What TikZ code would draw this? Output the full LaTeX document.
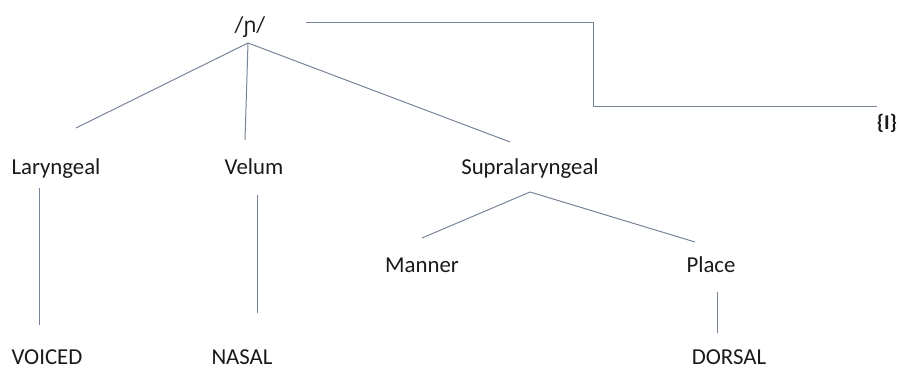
\documentclass[tikz,border=0pt]{standalone}
\usepackage{fontspec}
\setmainfont{Carlito}
\newfontfamily\ipafont{Noto Sans}
\usepackage{tikz}
\definecolor{treeline}{RGB}{120,132,155}
\tikzstyle{feat} = [inner sep=0pt, anchor=base, font={\fontsize{11.4}{13}\selectfont}, text=black!90]
\tikzstyle{link} = [draw=treeline, line width=0.5pt]

\begin{document}
\begin{tikzpicture}[x=0.5pt,y=-0.5pt]
    \useasboundingbox (0,0) rectangle (899,369);
    \node[feat](p) at (250,33){/{\ipafont\fontsize{10.5}{13}\selectfont ɲ}/};
    \node[feat](lar) at (56,174){Laryngeal};
    \node[feat](vel) at (254,174){Velum};
    \node[feat](sup) at (530,174){Supralaryngeal};
    \node[feat](man) at (422,272){Manner};
    \node[feat](pla) at (711,272){Place};
    \node[feat](voi) at (47,364){VOICED};
    \node[feat](nas) at (242,364){NASAL};
    \node[feat](dor) at (729,364){DORSAL};
    \node[feat,font={\fontsize{10.5}{12}\bfseries}](I) at (887,130){\{I\}};
    % line ends
    \coordinate(pj) at (248,43);
    \coordinate(larj) at (76,128);
    \coordinate(velj) at (245,140);
    \coordinate(supj) at (510,142);
    \coordinate(supk) at (530,192);
    \coordinate(manj) at (422,238);
    \coordinate(plaj) at (695,242);
    \coordinate(lark) at (39,188);
    \coordinate(voij) at (39,325);
    \coordinate(velk) at (257,195);
    \coordinate(nasj) at (257,313);
    \coordinate(plak) at (717,292);
    \coordinate(dorj) at (717,333);
    \coordinate(ps) at (306,23);
    \coordinate(Ie) at (877,107);
    \draw[link](pj)--(larj);
    \draw[link](pj)--(velj);
    \draw[link](pj)--(supj);
    \draw[link](supk)--(manj);
    \draw[link](supk)--(plaj);
    \draw[link](lark)--(voij);
    \draw[link](velk)--(nasj);
    \draw[link](plak)--(dorj);
    \draw[link](ps)-|(593,107)--(Ie);
\end{tikzpicture}
\end{document}
